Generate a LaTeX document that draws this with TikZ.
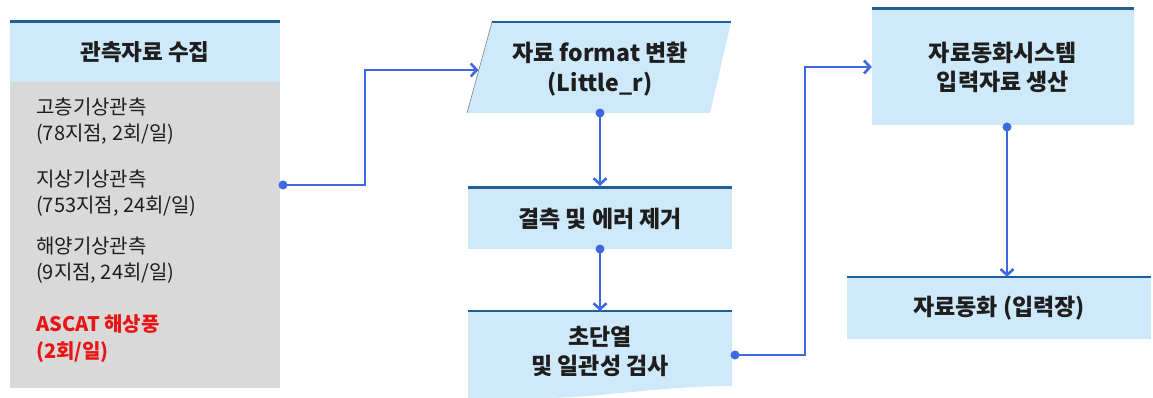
\documentclass[tikz,border=0pt]{standalone}
\usepackage{fontspec}
\setmainfont{Noto Sans CJK KR}
\usetikzlibrary{arrows.meta}
\definecolor{boxblue}{RGB}{206,233,249}
\definecolor{topline}{RGB}{30,95,150}
\definecolor{bodygray}{RGB}{217,217,217}
\definecolor{conn}{RGB}{62,105,225}
\definecolor{txt}{RGB}{30,30,30}
\definecolor{redtxt}{RGB}{235,20,20}
\tikzset{
  bluebox/.style={fill=boxblue, draw=none, inner sep=0pt, text=txt, font=\bfseries\fontsize{23}{29}\selectfont, align=center},
  topedge/.style={draw=topline, line width=2.6pt},
  itemtxt/.style={anchor=west, text=txt, font=\fontsize{20}{26}\selectfont, align=left, inner sep=0pt},
  conline/.style={draw=conn, line width=2.6pt},
  conarrow/.style={conline, -{Straight Barb[length=6pt,width=13pt,line width=2.6pt]}},
  dotmark/.style={circle, fill=conn, inner sep=0pt, minimum size=9pt}
}
\begin{document}
\begin{tikzpicture}[x=1pt,y=-1pt]
\useasboundingbox (0,0) rectangle (1153,398);
% left box
\node[fill=bodygray, minimum width=270pt, minimum height=306pt, inner sep=0pt] (body) at (145,235) {};
\node[bluebox, minimum width=270pt, minimum height=60pt, font=\bfseries\fontsize{22.5}{28}\selectfont] (hdr) at (145,52) {관측자료 수집};
\draw[topedge] (hdr.north west) -- (hdr.north east);
\node[itemtxt] (i1) at (36,121) {고층기상관측\\(78지점, 2회/일)};
\node[itemtxt] (i2) at (36,193) {지상기상관측\\(753지점, 24회/일)};
\node[itemtxt] (i3) at (36,260) {해양기상관측\\(9지점, 24회/일)};
\node[itemtxt, text=redtxt, font=\bfseries\fontsize{20}{27}\selectfont] (i4) at (36,339) {ASCAT 해상풍\\(2회/일)};
% parallelogram
\coordinate (pTL) at (492,22);
\coordinate (pTR) at (731,22);
\coordinate (pBR) at (710,113);
\coordinate (pBL) at (467,113);
\fill[boxblue] (pTL) -- (pTR) -- (pBR) -- (pBL) -- cycle;
\draw[topedge] (pTL) -- (pTR);
\draw[gray, line width=0.6pt] (pTL) -- (pBL);
\node[bluebox, fill=none, font=\bfseries\fontsize{23}{30}\selectfont] (fmt) at (600,69) {자료 format 변환\\(Little\_r)};
\coordinate (pIn) at (478.5,70);
\coordinate (pOut) at (600,113);
% box 2
\node[bluebox, minimum width=264pt, minimum height=61pt] (b2) at (600,218.5) {결측 및 에러 제거};
\draw[topedge] (b2.north west) -- (b2.north east);
% box 3 (document)
\coordinate (b3TL) at (468,311);
\coordinate (b3TR) at (732,311);
\fill[boxblue] (b3TL) -- (b3TR) -- (732,386) .. controls (660,386) and (600,398) .. (540,398) -- (468,398) -- cycle;
\draw[topedge] (b3TL) -- (b3TR);
\node[bluebox, fill=none] (b3) at (600,351) {초단열\\및 일관성 검사};
\coordinate (b3out) at (735,355);
% box 4
\node[bluebox, minimum width=262pt, minimum height=116pt] (b4) at (1003,67) {자료동화시스템\\입력자료 생산};
\draw[topedge] (b4.north west) -- (b4.north east);
% box 5
\node[bluebox, minimum width=304pt, minimum height=62pt] (b5) at (999,308) {자료동화 (입력장)};
\draw[topedge] (b5.north west) -- (b5.north east);
% connectors
\coordinate (c1s) at (283,185);
\coordinate (c1a) at (365,185);
\coordinate (c1b) at (365,70);
\draw[conarrow] (c1s) -- (c1a) -- (c1b) -- (pIn);
\node[dotmark] at (c1s) {};
\draw[conarrow] (pOut) -- (600,186);
\node[dotmark] at (pOut) {};
\coordinate (b2out) at (600,249);
\draw[conarrow] (b2out) -- (b3TL -| b2out);
\node[dotmark] at (b2out) {};
\coordinate (c4a) at (805,355);
\coordinate (c4b) at (805,67);
\draw[conarrow] (b3out) -- (c4a) -- (c4b) -- (c4b -| b4.west);
\node[dotmark] at (b3out) {};
\coordinate (b4out) at (1007,127);
\draw[conarrow] (b4out) -- (b4out |- b5.north);
\node[dotmark] at (b4out) {};
\end{tikzpicture}
\end{document}
